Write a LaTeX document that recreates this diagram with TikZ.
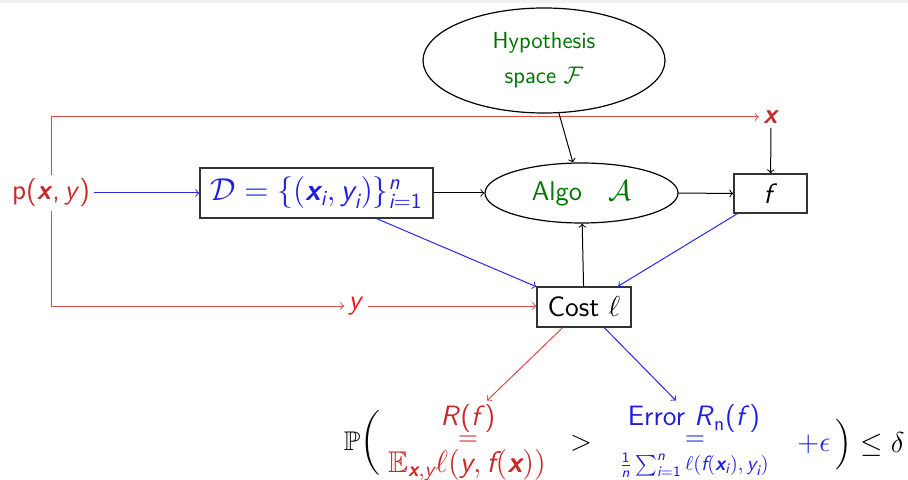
\documentclass[tikz,border=0pt]{standalone}
\usepackage{amsmath,amssymb,graphicx}
\usetikzlibrary{shapes.geometric}
\definecolor{mred}{RGB}{200,40,40}
\definecolor{lred}{RGB}{215,75,75}
\definecolor{yred}{RGB}{240,20,20}
\definecolor{mblue}{RGB}{30,30,225}
\definecolor{lblue}{RGB}{40,40,235}
\definecolor{mgreen}{RGB}{0,115,0}
\newcommand{\mv}[1]{\text{\sffamily\itshape #1}}
\newcommand{\mbv}[1]{\text{\sffamily\bfseries\itshape #1}}
\newcommand{\mr}[1]{\text{\sffamily #1}}
\tikzset{
  lab/.style={font=\sffamily\fontsize{14}{17}\selectfont, inner sep=2pt},
  boxn/.style={draw=black!80, line width=0.7pt, inner sep=0pt, font=\sffamily\fontsize{14}{17}\selectfont},
  ell/.style={ellipse, draw=black, line width=0.6pt, inner sep=0pt},
  fml/.style={font=\sffamily\fontsize{14}{16}\selectfont, inner sep=2pt},
  small/.style={font=\sffamily\fontsize{10.3}{12}\selectfont, inner sep=1pt},
  eqs/.style={inner sep=0pt, font=\fontsize{10}{12}\selectfont},
  con/.style={->, line width=0.5pt},
}
\begin{document}
\begin{tikzpicture}[x=0.5pt,y=-0.5pt]
\useasboundingbox (0,0) rectangle (908,480);
\fill[black!6] (0,0) rectangle (908,3);

% nodes
\node[ell, minimum width=121pt, minimum height=52.5pt, align=center, text=mgreen,
      font=\sffamily\fontsize{11.6}{17.5}\selectfont] (hyp) at (544,60.5) {Hypothesis\\space $\mathcal{F}$};
\node[lab, text=mred] (p) at (51,193) {p(\textbf{\textit{x}},\thinspace\textit{y})};
\node[boxn, text=mblue, minimum width=116.5pt, minimum height=25pt] (D) at (316.5,193)
  {\scalebox{1.1}{$\mathcal{D} = \{(\mbv{x}_{\mv{i}}, \mv{y}_{\mv{i}})\}_{\mv{i}=\mr{1}}^{\mv{n}}$}};
\node[ell, minimum width=96.5pt, minimum height=30pt, text=mgreen,
      font=\sffamily\fontsize{13.5}{17}\selectfont] (algo) at (581.5,193) {Algo\hspace{13pt}$\mathcal{A}$\hspace{8pt}};
\node[boxn, minimum width=36.5pt, minimum height=19.5pt] (f) at (770.5,193.5) {\textit{f}};
\node[lab, text=mred] (xl) at (771,117) {\textbf{\textit{x}}};
\node[lab, text=yred] (yl) at (356,306) {\textit{y}};
\node[boxn, minimum width=47pt, minimum height=20pt] (cost) at (584,307) {Cost $\ell$};

% formula
\node[fml, font=\fontsize{13.5}{16}\selectfont] (P) at (362,443) {$\mathbb{P}\bigg($};
\node[fml, text=mred] (risk) at (468,419) {\textit{R}(\textit{f})};
\node[eqs, text=mred] (eq1) at (468,441) {\scalebox{1.3}{$=$}};
\node[fml, text=mred] (E) at (467,465) {\scalebox{1.07}{$\mathbb{E}_{\mbv{x},\mv{y}}\ell(\mv{y}, \mv{f}(\mbv{x}))$}};
\node[fml, font=\fontsize{14}{16}\selectfont] (gt) at (581,443) {$>$};
\node[fml, text=mblue] (emp) at (694,419) {Error \textit{R}\textsubscript{n}(\textit{f})};
\node[eqs, text=mblue] (eq2) at (695,441) {\scalebox{1.3}{$=$}};
\node[small, text=mblue] (sum) at (694,465) {$\frac{\mr{1}}{\mv{n}}\sum_{\mv{i}=\mr{1}}^{\mv{n}}\ell(\mv{f}(\mbv{x}_{\mv{i}}), \mv{y}_{\mv{i}})$};
\node[fml, text=mblue, font=\fontsize{14}{16}\selectfont] (eps) at (814,444) {$+\epsilon$};
\node[fml, font=\fontsize{14}{16}\selectfont] (cl) at (870,445) {$\Big)\le\delta$};

% connectors
\draw[con, lred] (p.north) |- (xl.west);
\draw[con, lred] (p.south) |- (yl.west);
\draw[con, lred] (yl.east) -- (yl.east -| cost.west);
\draw[con, lblue] (p.east) -- (D.west);
\draw[con] (D.east) -- (algo.west);
\draw[con] (algo.east) -- (f.west);
\draw[con] (xl) -- (f);
\draw[con] (hyp) -- (algo);
\draw[con] (cost) -- (algo);
\draw[con, lblue] (D) -- (cost);
\draw[con, lblue] (f) -- (cost);
\draw[con, lred] (cost) -- (risk);
\draw[con, lblue] (cost) -- (emp);
\end{tikzpicture}
\end{document}
